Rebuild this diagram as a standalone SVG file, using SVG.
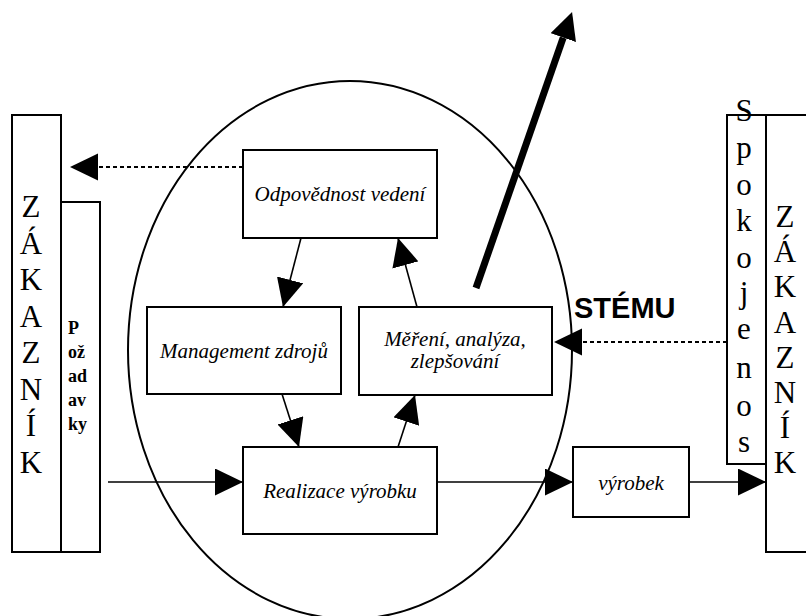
<svg xmlns="http://www.w3.org/2000/svg" width="806" height="616" viewBox="0 0 806 616">
<defs>
<style>
.box{fill:#fff;stroke:#000;stroke-width:2}
.ln{fill:none;stroke:#000;stroke-width:1.6}
.dash{fill:none;stroke:#000;stroke-width:2;stroke-dasharray:4 3}
.serif{font-family:'Liberation Serif','Times New Roman',serif}
.vert{font-size:31px;text-anchor:middle;fill:#000}
.lbl{font-style:italic;font-size:21px;text-anchor:middle;fill:#000}
</style>
<marker id="head" viewBox="0 0 28 27" refX="28" refY="13.5" markerWidth="28" markerHeight="27" markerUnits="userSpaceOnUse" orient="auto">
<path d="M0,0 L28,13.5 L0,27 Z" fill="#000"/>
</marker>
<marker id="bighead" viewBox="0 0 27 27" refX="0" refY="13.5" markerWidth="27" markerHeight="27" markerUnits="userSpaceOnUse" orient="auto">
<path d="M0,0 L27,13.5 L0,27 Z" fill="#000"/>
</marker>
</defs>
<rect width="806" height="616" fill="#fff"/>

<g id="zakaznik-left">
<rect class="box" x="12" y="115" width="49" height="437"/>
<g class="serif vert">
<text x="31" y="217">Z</text>
<text x="31" y="253.5">Á</text>
<text x="31" y="290">K</text>
<text x="31" y="326.5">A</text>
<text x="31" y="363">Z</text>
<text x="31" y="399.5">N</text>
<text x="31" y="436">Í</text>
<text x="31" y="472.5">K</text>
</g>
</g>

<g id="pozadavky">
<rect class="box" x="61" y="202" width="39" height="350"/>
<g class="serif" font-size="18" font-weight="bold" fill="#000">
<text x="68" y="334">P</text>
<text x="68" y="358">ož</text>
<text x="68" y="382">ad</text>
<text x="68" y="406">av</text>
<text x="68" y="430">ky</text>
</g>
</g>

<g id="zakaznik-right">
<rect class="box" x="766" y="115" width="60" height="437"/>
<g class="serif vert">
<text x="785" y="227">Z</text>
<text x="785" y="262">Á</text>
<text x="785" y="297">K</text>
<text x="785" y="332.5">A</text>
<text x="785" y="367.5">Z</text>
<text x="785" y="403">N</text>
<text x="785" y="438">Í</text>
<text x="785" y="473">K</text>
</g>
</g>

<g id="spokojenost">
<rect class="box" x="727" y="115" width="39" height="349"/>
<g class="serif vert">
<text x="744" y="121">S</text>
<text x="744" y="158">p</text>
<text x="744" y="195">o</text>
<text x="744" y="231">k</text>
<text x="744" y="268">o</text>
<text x="744" y="303">j</text>
<text x="744" y="339">e</text>
<text x="744" y="378">n</text>
<text x="744" y="416">o</text>
<text x="744" y="452">s</text>
</g>
</g>

<g id="system">
<ellipse cx="350" cy="350" rx="222" ry="269" fill="none" stroke="#000" stroke-width="2"/>
<text x="574" y="318" font-family="Liberation Sans, Arial, sans-serif" font-weight="bold" font-size="29" fill="#000">STÉMU</text>
</g>

<g id="odpovednost">
<rect class="box" x="243" y="150" width="194" height="88"/>
<text class="serif lbl" x="340" y="201">Odpovědnost vedení</text>
</g>

<g id="management">
<rect class="box" x="147" y="307" width="194" height="87"/>
<text class="serif lbl" x="244" y="358">Management zdrojů</text>
</g>

<g id="mereni">
<rect class="box" x="359" y="307" width="193" height="88"/>
<text class="serif lbl" x="455" y="346">Měření, analýza,</text>
<text class="serif lbl" x="455" y="368">zlepšování</text>
</g>

<g id="realizace">
<rect class="box" x="243" y="447" width="194" height="87"/>
<text class="serif lbl" x="340" y="498">Realizace výrobku</text>
</g>

<g id="vyrobek">
<rect class="box" x="573" y="447" width="116" height="70"/>
<text class="serif lbl" x="631" y="490">výrobek</text>
</g>

<g id="connectors">
<line class="ln" x1="108" y1="482" x2="243" y2="482" marker-end="url(#head)"/>
<line class="ln" x1="437" y1="482" x2="573" y2="482" marker-end="url(#head)"/>
<line class="ln" x1="689" y1="482" x2="766" y2="482" marker-end="url(#head)"/>
<line class="ln" x1="301" y1="238" x2="283" y2="307" marker-end="url(#head)"/>
<line class="ln" x1="282" y1="394" x2="299" y2="447" marker-end="url(#head)"/>
<line class="ln" x1="398" y1="447" x2="415" y2="395" marker-end="url(#head)"/>
<line class="ln" x1="417" y1="307" x2="398" y2="238" marker-end="url(#head)"/>
<line class="dash" x1="243" y1="167" x2="98" y2="167"/>
<path d="M98,153.5 L70,167 L98,180.5 Z" fill="#000"/>
<line class="dash" x1="727" y1="342" x2="582" y2="342"/>
<path d="M582,328.5 L554,342 L582,355.5 Z" fill="#000"/>
<line x1="476" y1="288" x2="563.2" y2="37.6" stroke="#000" stroke-width="7" marker-end="url(#bighead)"/>
</g>
</svg>
